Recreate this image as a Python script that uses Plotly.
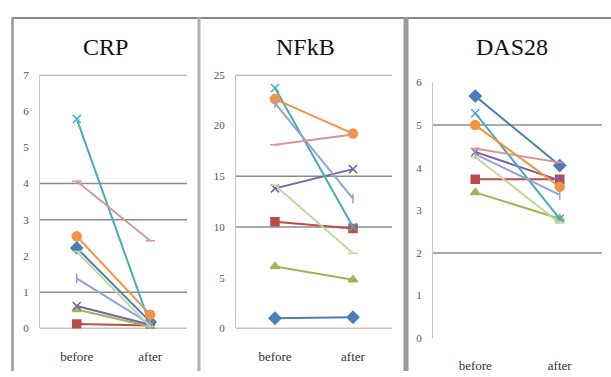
import plotly.graph_objects as go

W, H = 611, 377

categories = ["before", "after"]
panel_titles = ["CRP", "NFkB", "DAS28"]

crp_before = [2.22, 0.12, 0.52, 0.62, 5.78, 2.54, 1.38, 4.06, 2.12]
crp_after = [0.18, 0.08, 0.05, 0.10, 0.10, 0.38, 0.12, 2.42, 0.05]
nfkb_before = [1.0, 10.5, 6.1, 13.8, 23.7, 22.6, 22.2, 18.1, 14.1]
nfkb_after = [1.1, 9.85, 4.8, 15.7, 10.0, 19.2, 12.8, 19.1, 7.4]
das_before = [5.68, 3.73, 3.42, 4.37, 5.28, 5.0, 4.32, 4.45, 4.25]
das_after = [4.05, 3.73, 2.8, 3.7, 2.8, 3.55, 3.36, 4.12, 2.7]

colors = ["#4A7EBB", "#BE4B48", "#98B954", "#7D60A0", "#46AAC5",
          "#F69240", "#8EA5D6", "#DA9694", "#C3D69B"]
symbols = ["diamond", "square", "triangle-up", "x-thin-open", "x-thin-open",
           "circle", "line-ns-open", "line-ew-open", "line-ew-open"]
msizes = [9, 8, 8, 8, 8, 9, 7, 7, 7]

y_ranges = [[0, 7], [0, 25], [0, 6]]
y_ticks = [[0, 1, 2, 3, 4, 5, 6, 7], [0, 5, 10, 15, 20, 25], [0, 1, 2, 3, 4, 5, 6]]
grid_vals = [[0, 1, 3, 4, 7], [0, 10, 15, 25], [2, 5]]

# pixel layout of each plot area: (x0, x1, ytop, ybottom)
areas = [(40, 187, 71, 333), (236, 392, 71, 333), (433, 602, 79, 343)]
title_x = [105, 305, 512]
title_y = 42
SERIF = "Liberation Serif, Times New Roman, serif"

fig = go.Figure()
data_sets = [(crp_before, crp_after), (nfkb_before, nfkb_after), (das_before, das_after)]
for p, (bef, aft) in enumerate(data_sets):
    xa = "x" if p == 0 else f"x{p+1}"
    ya = "y" if p == 0 else f"y{p+1}"
    for i in range(len(bef)):
        mk = dict(symbol=symbols[i], size=msizes[i], color=colors[i],
                  line=dict(color=colors[i], width=1.5))
        fig.add_trace(go.Scatter(x=categories, y=[bef[i], aft[i]], mode="lines+markers",
                                 line=dict(color=colors[i], width=2), marker=mk,
                                 xaxis=xa, yaxis=ya, showlegend=False))

layout = dict(width=W, height=H, margin=dict(l=0, r=0, t=0, b=0),
              paper_bgcolor="white", plot_bgcolor="white", showlegend=False)
shapes = []
annotations = []
for p in range(3):
    x0, x1, yt, yb = areas[p]
    sfx = "" if p == 0 else str(p + 1)
    layout["xaxis" + sfx] = dict(domain=[x0 / W, x1 / W], type="category",
                                 range=[-0.5, 1.5], showgrid=False, zeroline=False,
                                 showline=False, ticks="",
                                 tickfont=dict(family=SERIF, size=13, color="#333"),
                                 ticklabelstandoff=19 if p < 2 else 18,
                                 anchor="y" + sfx, fixedrange=True)
    layout["yaxis" + sfx] = dict(domain=[1 - yb / H, 1 - yt / H], range=y_ranges[p],
                                 tickvals=y_ticks[p], showgrid=False, zeroline=False,
                                 showline=True, linecolor="#c8c8c8", linewidth=1,
                                 ticks="", ticklabelstandoff=8,
                                 tickfont=dict(family=SERIF, size=11, color="#555"),
                                 anchor="x" + sfx, fixedrange=True)
    for g in grid_vals[p]:
        shapes.append(dict(type="line", xref=f"x{sfx} domain", yref="y" + sfx,
                           x0=0, x1=1, y0=g, y1=g, layer="below",
                           line=dict(color="#8c8c8c", width=1.5)))
    annotations.append(dict(text=panel_titles[p], xref="paper", yref="paper",
                            x=title_x[p] / W, y=1 - title_y / H, showarrow=False,
                            xanchor="center", yanchor="middle",
                            font=dict(family=SERIF, size=24, color="#111")))

# panel frames
frame = [
    (12, 12.5, 611, 12.5, "#8a8a8a", 2),
    (12.5, 12, 12.5, 377, "#999999", 2.5),
    (199, 12, 199, 377, "#b0b0b0", 3),
    (406, 12, 406, 377, "#999999", 5),
]
for fx0, fy0, fx1, fy1, c, w in frame:
    shapes.append(dict(type="line", xref="paper", yref="paper",
                       x0=fx0 / W, y0=1 - fy0 / H, x1=fx1 / W, y1=1 - fy1 / H,
                       line=dict(color=c, width=w)))

layout["shapes"] = shapes
layout["annotations"] = annotations
fig.update_layout(**layout)
fig.write_html("out.html")
